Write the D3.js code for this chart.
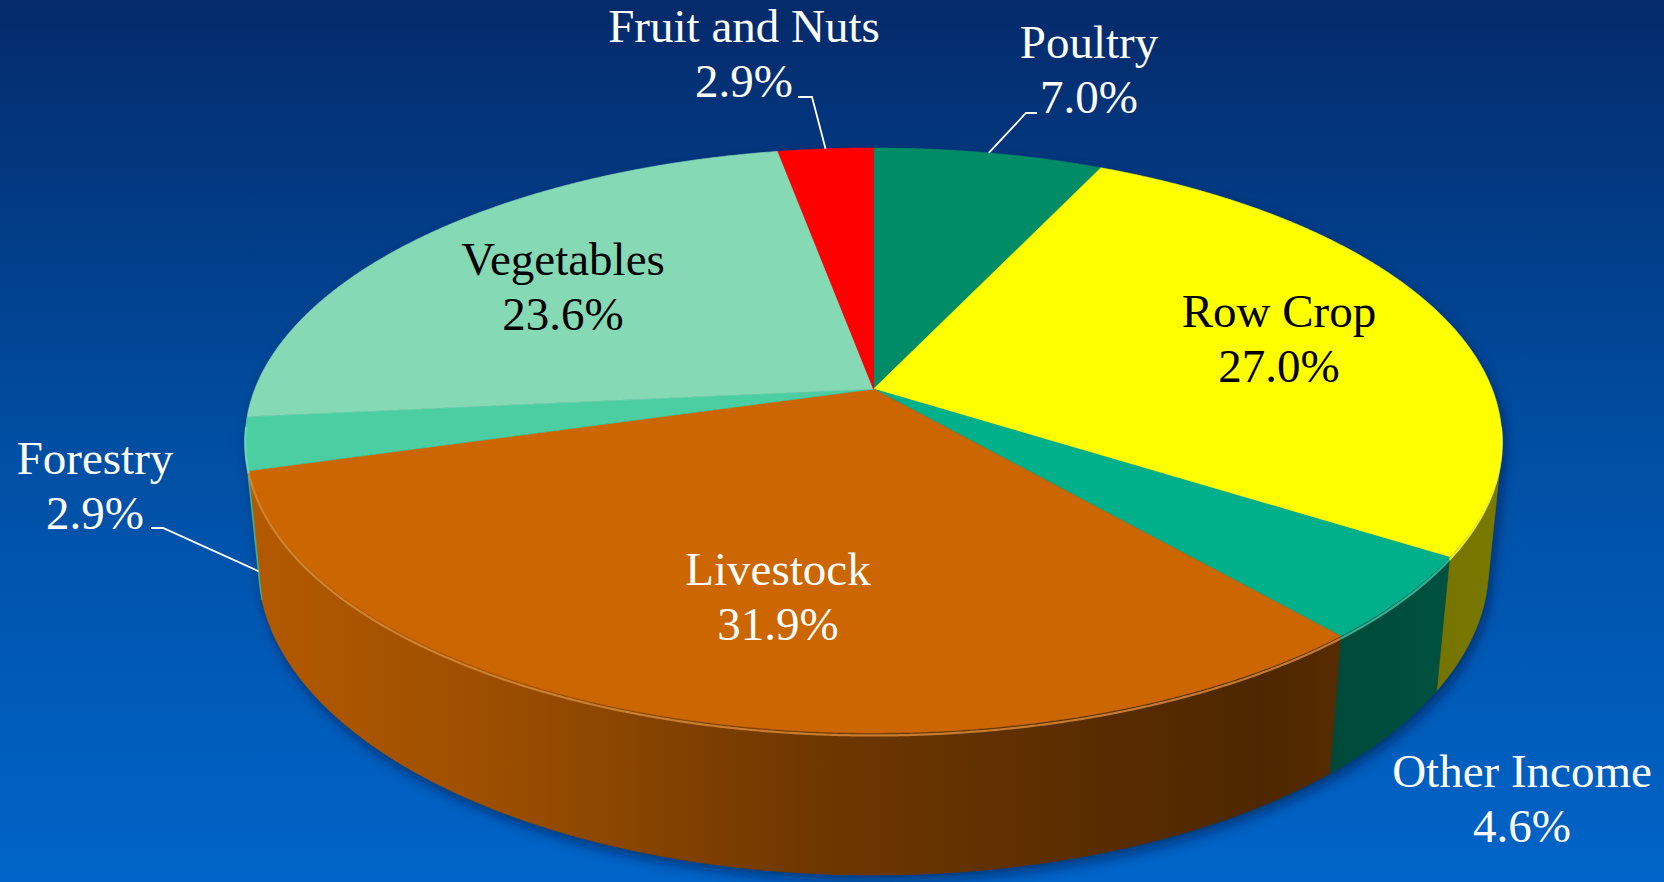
<!DOCTYPE html>
<html>
<head>
<meta charset="utf-8">
<script src="https://cdn.jsdelivr.net/npm/d3@7"></script>
<style>
  html, body { margin: 0; padding: 0; overflow: hidden; background: #0050a4; }
  text { font-family: "Liberation Serif", "Times New Roman", serif; font-size: 47px; }
</style>
</head>
<body>
<svg id="chart" width="1664" height="882"></svg>
<script>
// data, clockwise from 12 o'clock
const categories = ["Poultry", "Row Crop", "Other Income", "Livestock", "Forestry", "Vegetables", "Fruit and Nuts"];
const shares = [7.0, 27.0, 4.6, 31.9, 2.9, 23.6, 2.9];
const palette = ["#008c66", "#ffff00", "#00b08b", "#cc6600", "#4bcfa2", "#86d9b5", "#ff0000"];

// label placement (centre x, first baseline y), text colour, leader stub
const labelAt = {
  "Poultry":        {x: 1089, y: 58,  fill: "#fff", stub: [[1037, 113], [1026, 113]], end: "top"},
  "Row Crop":       {x: 1279, y: 327, fill: "#000"},
  "Other Income":   {x: 1522, y: 787, fill: "#fff"},
  "Livestock":      {x: 778,  y: 585, fill: "#fff"},
  "Forestry":       {x: 95,   y: 474, fill: "#fff", stub: [[151, 528], [163, 528]], end: "bottom"},
  "Vegetables":     {x: 563,  y: 275, fill: "#000"},
  "Fruit and Nuts": {x: 744,  y: 42,  fill: "#fff", stub: [[798, 97], [812, 97]], end: "top"}
};

const svg = d3.select("#chart");
const width = 1664, height = 882;

// perspective camera for the pie disc (radius 1)
const cam = {cx: 873.5, cy: 389, f: 3126, D: 5.053, tilt: 27.27 * Math.PI / 180, h: 0.2316};
const sA = Math.sin(cam.tilt), cA = Math.cos(cam.tilt);

function proj(theta, r, y) {
  const X = r * Math.sin(theta), Z = -r * Math.cos(theta);
  const v = Z * sA - y * cA;
  const w = cam.D - Z * cA - y * sA;
  return [cam.cx + cam.f * X / w, cam.cy + cam.f * v / w];
}

function rim(a0, a1, y) {
  const n = Math.max(2, Math.ceil(Math.abs(a1 - a0) / 0.005));
  return d3.range(n + 1).map(i => proj(a0 + (a1 - a0) * i / n, 1, y));
}

const line = d3.line();
const arcs = d3.pie().sort(null).value(d => d)(shares);

// visible part of the outer wall
const vis0 = Math.acos(-1 / (cam.D * cA));
const vis1 = 2 * Math.PI - vis0;

// background
const defs = svg.append("defs");
const bg = defs.append("linearGradient").attr("id", "bg")
  .attr("x1", 0).attr("y1", 0).attr("x2", 0).attr("y2", 1);
bg.append("stop").attr("offset", "0%").attr("stop-color", "#042a6a");
bg.append("stop").attr("offset", "50%").attr("stop-color", "#004ea2");
bg.append("stop").attr("offset", "100%").attr("stop-color", "#0064c8");
svg.append("rect").attr("width", width).attr("height", height).attr("fill", "url(#bg)");

const blur = defs.append("filter").attr("id", "shadow")
  .attr("x", "-10%").attr("y", "-10%").attr("width", "120%").attr("height", "130%");
blur.append("feGaussianBlur").attr("stdDeviation", 6);

// wall shading along screen x
const shadeX = d3.scaleLinear()
  .domain([245, 500, 800, 1000, 1260, 1340, 1500])
  .range([0.88, 0.76, 0.55, 0.47, 0.38, 0.42, 0.48]);

arcs.forEach((a, i) => {
  const g = defs.append("linearGradient").attr("id", "wall" + i)
    .attr("gradientUnits", "userSpaceOnUse")
    .attr("x1", 245).attr("x2", 1500).attr("y1", 0).attr("y2", 0);
  const base = d3.rgb(palette[i]);
  shadeX.domain().forEach((x, k) => {
    const b = shadeX.range()[k];
    g.append("stop").attr("offset", (x - 245) / (1500 - 245))
      .attr("stop-color", d3.rgb(base.r * b, base.g * b, base.b * b).formatHex());
  });
});

// drop shadow
const sh = svg.append("g").attr("filter", "url(#shadow)")
  .attr("transform", "translate(3,6)").attr("opacity", 0.5);
sh.append("path").attr("d", line(rim(0, 2 * Math.PI, 0)) + "Z").attr("fill", "#001030");
sh.append("path").attr("d", line(rim(vis0, vis1, 0).concat(rim(vis1, vis0, -cam.h))) + "Z").attr("fill", "#001030");

// walls
const walls = svg.append("g");
arcs.forEach((a, i) => {
  const a0 = Math.max(a.startAngle, vis0), a1 = Math.min(a.endAngle, vis1);
  if (a1 <= a0) return;
  const pts = rim(a0, a1, 0).concat(rim(a1, a0, -cam.h));
  walls.append("path").attr("d", line(pts) + "Z")
    .attr("fill", `url(#wall${i})`)
    .attr("stroke", `url(#wall${i})`).attr("stroke-width", 0.6);
});

// top faces
const tops = svg.append("g");
arcs.forEach((a, i) => {
  const pts = [[cam.cx, cam.cy]].concat(rim(a.startAngle, a.endAngle, 0));
  tops.append("path").attr("d", line(pts) + "Z")
    .attr("fill", palette[i])
    .attr("stroke", palette[i]).attr("stroke-width", 0.6);
});

// bevel highlight on the front rim
arcs.forEach((a, i) => {
  const a0 = Math.max(a.startAngle, vis0 - 0.1), a1 = Math.min(a.endAngle, vis1 + 0.1);
  if (a1 <= a0) return;
  tops.append("path").attr("d", line(rim(a0, a1, -0.004)))
    .attr("fill", "none")
    .attr("stroke", d3.interpolateRgb(palette[i], "#ffffff")(0.22))
    .attr("stroke-width", 2.2).attr("opacity", 0.85);
});

// leader lines
const leaders = svg.append("g");
arcs.forEach((a, i) => {
  const L = labelAt[categories[i]];
  if (!L.stub) return;
  const mid = (a.startAngle + a.endAngle) / 2;
  const end = proj(mid, 1, L.end === "top" ? 0 : -cam.h);
  leaders.append("path").attr("d", line(L.stub.concat([end])))
    .attr("fill", "none").attr("stroke", "#fff").attr("stroke-width", 1.8);
});

// labels
const labels = svg.append("g");
arcs.forEach((a, i) => {
  const L = labelAt[categories[i]];
  const t = labels.append("text").attr("text-anchor", "middle").attr("fill", L.fill);
  t.append("tspan").attr("x", L.x).attr("y", L.y).text(categories[i]);
  t.append("tspan").attr("x", L.x).attr("y", L.y + 54.5).text(shares[i].toFixed(1) + "%");
});
</script>
</body>
</html>
